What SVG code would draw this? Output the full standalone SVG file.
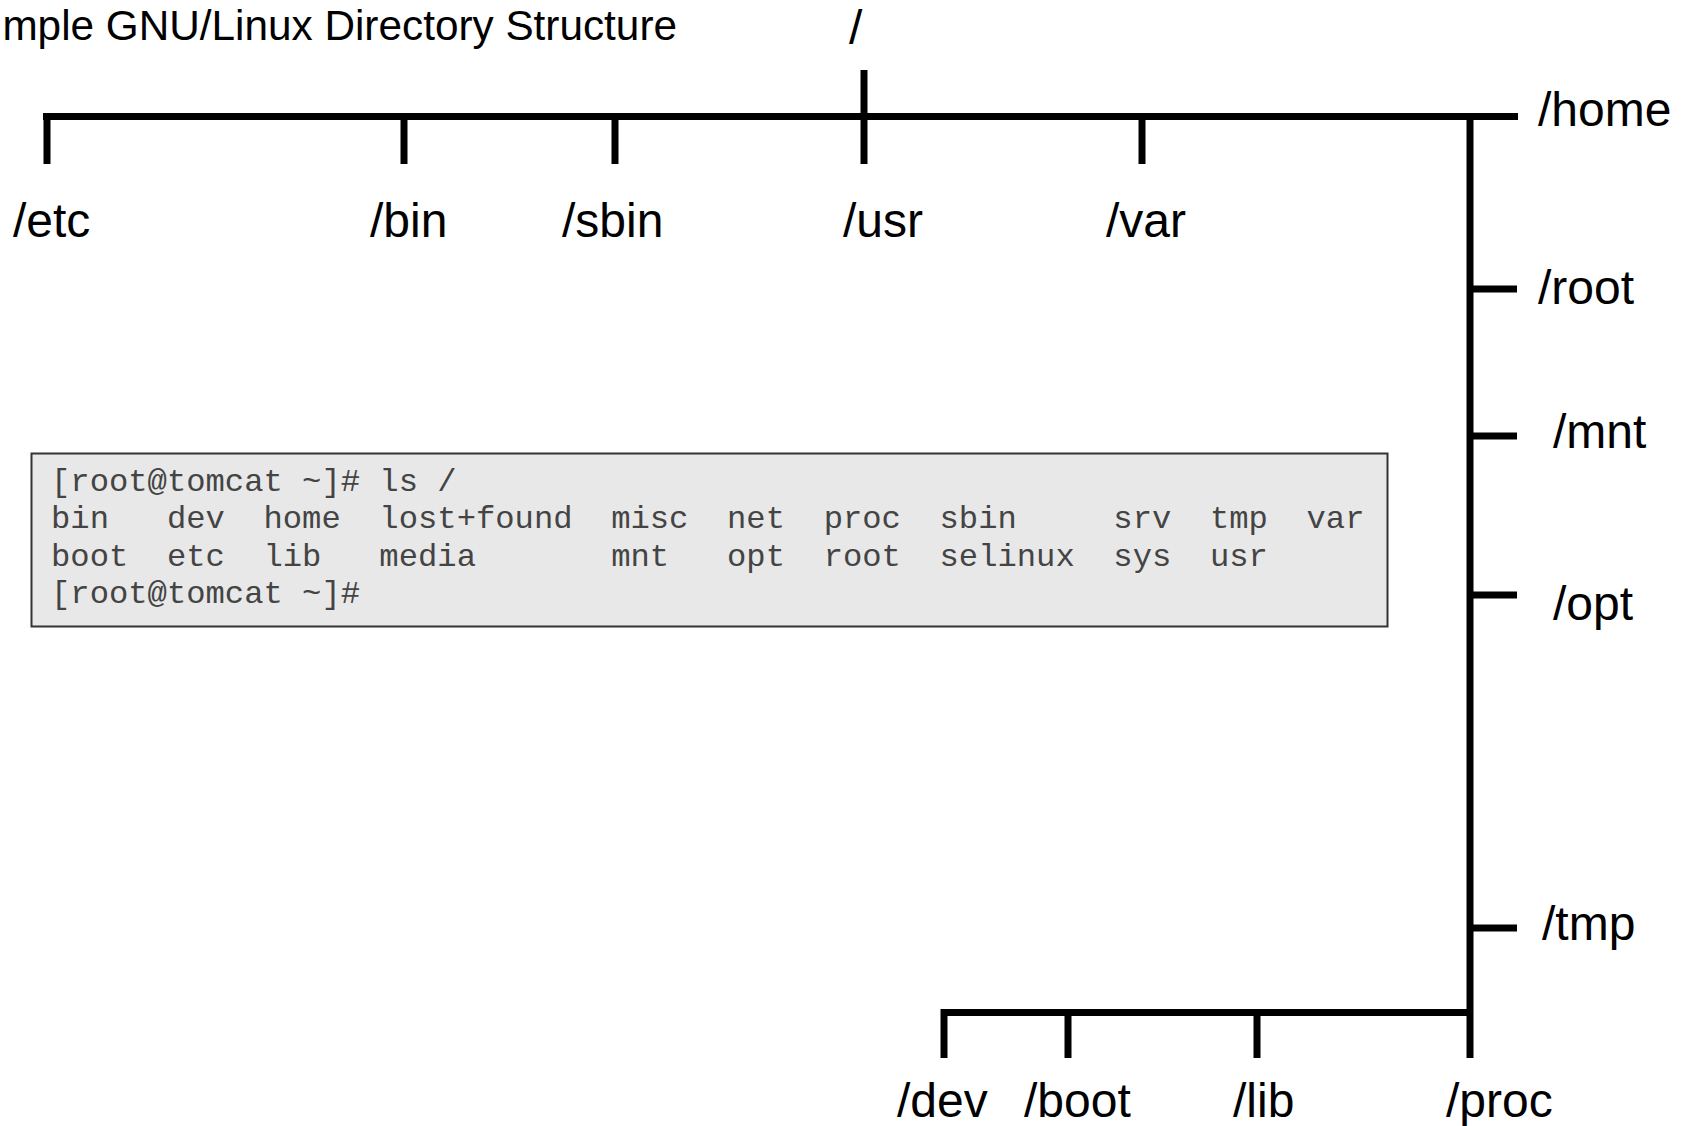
<svg xmlns="http://www.w3.org/2000/svg" width="1692" height="1126" viewBox="0 0 1692 1126">
<style>
.lbl{font-family:"Liberation Sans",Arial,sans-serif;font-size:48px;fill:#000}
.title{font-family:"Liberation Sans",Arial,sans-serif;font-size:42.3px;fill:#000}
.term{font-family:"Liberation Mono","Courier New",monospace;font-size:32.2px;fill:#444;white-space:pre}
.ln{stroke:#000;stroke-width:7;fill:none;stroke-linecap:butt}
</style>
<rect width="1692" height="1126" fill="#fff"/>
<text class="title" x="677" y="40" text-anchor="end">mple GNU/Linux Directory Structure</text>
<g id="connectors">
<path class="ln" d="M43 116.5H1518"/>
<path class="ln" d="M47 113V164"/>
<path class="ln" d="M404 116V164"/>
<path class="ln" d="M615 116V164"/>
<path class="ln" d="M864 70V164"/>
<path class="ln" d="M1142 116V164"/>
<path class="ln" d="M1470 116V1058"/>
<path class="ln" d="M1470 289H1517"/>
<path class="ln" d="M1470 436H1517"/>
<path class="ln" d="M1470 595H1517"/>
<path class="ln" d="M1470 928H1517"/>
<path class="ln" d="M941 1012.5H1470"/>
<path class="ln" d="M944 1009V1058"/>
<path class="ln" d="M1068 1012V1058"/>
<path class="ln" d="M1257 1012V1058"/>
</g>
<g id="node-root"><text class="lbl" x="849" y="44">/</text></g>
<g id="node-etc"><text class="lbl" x="13" y="237">/etc</text></g>
<g id="node-bin"><text class="lbl" x="370" y="237">/bin</text></g>
<g id="node-sbin"><text class="lbl" x="562" y="237">/sbin</text></g>
<g id="node-usr"><text class="lbl" x="843" y="237">/usr</text></g>
<g id="node-var"><text class="lbl" x="1106" y="237">/var</text></g>
<g id="node-home"><text class="lbl" x="1538" y="126">/home</text></g>
<g id="node-rootdir"><text class="lbl" x="1538" y="304">/root</text></g>
<g id="node-mnt"><text class="lbl" x="1553" y="448">/mnt</text></g>
<g id="node-opt"><text class="lbl" x="1553" y="620">/opt</text></g>
<g id="node-tmp"><text class="lbl" x="1542" y="940">/tmp</text></g>
<g id="node-dev"><text class="lbl" x="897" y="1117">/dev</text></g>
<g id="node-boot"><text class="lbl" x="1024" y="1117">/boot</text></g>
<g id="node-lib"><text class="lbl" x="1233" y="1117">/lib</text></g>
<g id="node-proc"><text class="lbl" x="1446" y="1117">/proc</text></g>
<g id="terminal">
<rect x="31.5" y="453.5" width="1356" height="173" fill="#e8e8e8" stroke="#333" stroke-width="2"/>
<text class="term" xml:space="preserve" x="51" y="491">[root@tomcat ~]# ls /</text>
<text class="term" xml:space="preserve" x="51" y="528">bin   dev  home  lost+found  misc  net  proc  sbin     srv  tmp  var</text>
<text class="term" xml:space="preserve" x="51" y="566">boot  etc  lib   media       mnt   opt  root  selinux  sys  usr</text>
<text class="term" xml:space="preserve" x="51" y="603">[root@tomcat ~]#</text>
</g>
</svg>
